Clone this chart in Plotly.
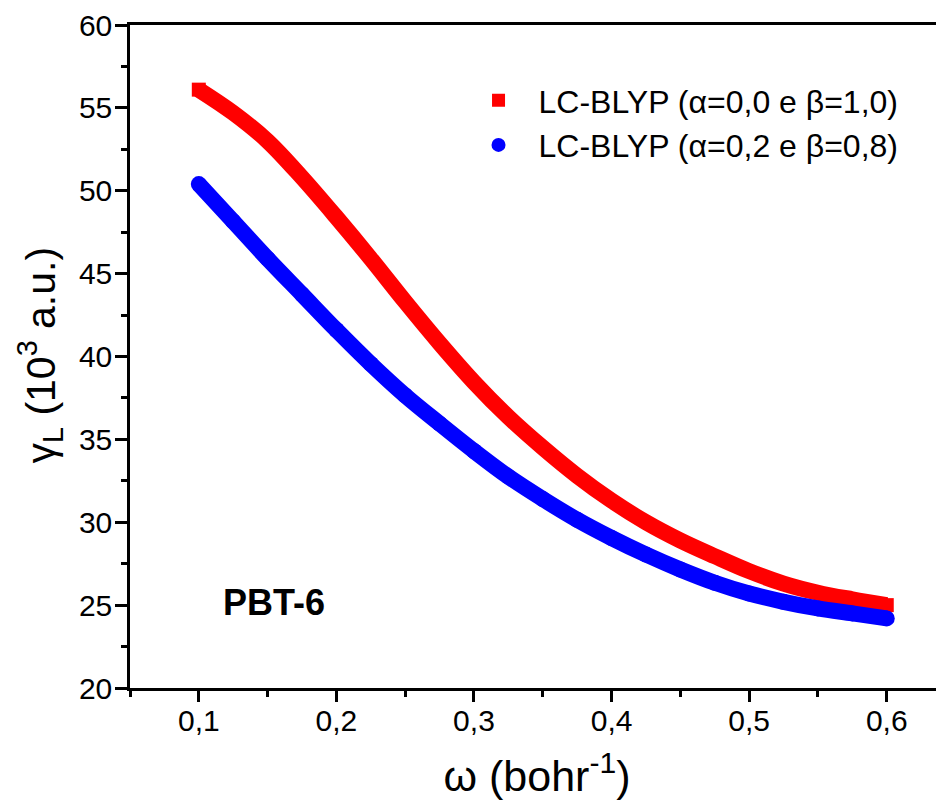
import plotly.graph_objects as go

omega = [0.100, 0.125, 0.150, 0.175, 0.200, 0.225, 0.250, 0.275, 0.300, 0.325,
         0.350, 0.375, 0.400, 0.425, 0.450, 0.475, 0.500, 0.525, 0.550, 0.575, 0.600]
gamma_a00 = [56.1, 54.7, 53.0, 50.8, 48.4, 45.9, 43.3, 40.8, 38.45, 36.35,
             34.5, 32.8, 31.3, 30.0, 28.9, 27.95, 27.05, 26.3, 25.75, 25.35, 25.0]
gamma_a02 = [50.4, 48.15, 45.9, 43.75, 41.6, 39.55, 37.65, 35.95, 34.3, 32.75,
             31.4, 30.15, 29.05, 28.05, 27.15, 26.35, 25.7, 25.2, 24.8, 24.5, 24.2]

name_a00 = "LC-BLYP (α=0,0 e β=1,0)"
name_a02 = "LC-BLYP (α=0,2 e β=0,8)"
x_title = "ω (bohr<sup>-1</sup>)"
y_title = "γ<sub>L</sub> (10<sup>3</sup> a.u.)"
RED = "#FF0000"
BLUE = "#0000FF"
FONT = "Liberation Sans, Arial, sans-serif"

n = len(omega)
red_sizes = [14 if i in (0, n - 1) else 10 for i in range(n)]

fig = go.Figure()
fig.add_trace(go.Scatter(x=omega, y=gamma_a00, mode="lines+markers", showlegend=False,
                         line=dict(color=RED, width=16, shape="spline"),
                         marker=dict(symbol="square", size=red_sizes, color=RED, opacity=1,
                                     line=dict(width=0))))
fig.add_trace(go.Scatter(x=omega, y=gamma_a02, mode="lines+markers", showlegend=False,
                         line=dict(color=BLUE, width=16, shape="spline"),
                         marker=dict(symbol="circle", size=16, color=BLUE, opacity=1,
                                     line=dict(width=0))))
# legend entries
fig.add_trace(go.Scatter(x=[None], y=[None], mode="markers", name=name_a00, legendgroup="a",
                         marker=dict(symbol="square", size=13, color=RED, line=dict(width=0))))
fig.add_trace(go.Scatter(x=[None], y=[None], mode="markers", name=name_a02, legendgroup="b",
                         marker=dict(symbol="circle", size=14, color=BLUE, line=dict(width=0))))

fig.add_annotation(text="<b>PBT-6</b>", xref="paper", yref="paper", x=0.1769, y=0.1287,
                   xanchor="center", yanchor="middle",
                   showarrow=False, font=dict(family=FONT, size=36, color="black"))
# y-axis title (as rotated annotation to allow placement inside the left margin)
fig.add_annotation(text=y_title, xref="paper", yref="paper", x=-0.1106, y=0.503,
                   xanchor="center", yanchor="middle", textangle=-90,
                   showarrow=False, font=dict(family=FONT, size=41, color="black"))

axis_common = dict(showgrid=False, zeroline=False, showline=True, linecolor="black", linewidth=2.5,
                   ticks="outside", tickcolor="black", tickwidth=2.5,
                   tickfont=dict(family=FONT, size=30, color="black"))

fig.update_xaxes(range=[0.05, 0.6416], dtick=0.1, tick0=0.1, tickformat=".1f", ticklen=11,
                 mirror=True, ticklabelstandoff=-7,
                 minor=dict(dtick=0.05, tick0=0.05, ticks="outside", ticklen=6, tickwidth=2.5, tickcolor="black"),
                 title=dict(text=x_title, font=dict(family=FONT, size=43, color="black"), standoff=26),
                 **axis_common)
fig.update_yaxes(range=[20, 60], dtick=5, ticklen=12, mirror=False, ticklabelstandoff=-3,
                 minor=dict(dtick=2.5, ticks="outside", ticklen=6, tickwidth=2.5, tickcolor="black"),
                 **axis_common)

fig.update_layout(
    width=936, height=797,
    margin=dict(l=122, r=0, t=17, b=117, autoexpand=False),
    paper_bgcolor="white", plot_bgcolor="white",
    separators=",.",
    legend=dict(x=0.4036, y=0.9276, xanchor="left", yanchor="top", bgcolor="rgba(0,0,0,0)",
                font=dict(family=FONT, size=32, color="black"), itemwidth=70,
                traceorder="grouped", tracegroupgap=0),
)

fig.write_html("out.html")
